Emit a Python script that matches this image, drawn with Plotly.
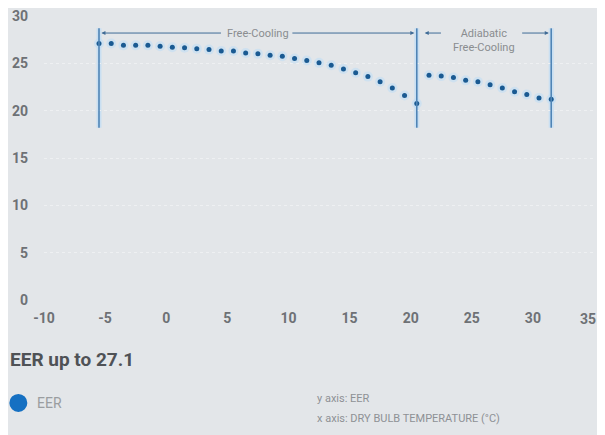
import plotly.graph_objects as go

# ---- data ----
fc_temp = [-5.5, -4.5, -3.5, -2.5, -1.5, -0.5, 0.5, 1.5, 2.5, 3.5, 4.5, 5.5, 6.5,
           7.5, 8.5, 9.5, 10.5, 11.5, 12.5, 13.5, 14.5, 15.5, 16.5, 17.5, 18.5, 19.5, 20.5]
fc_eer = [27.1, 27.1, 26.9, 26.9, 26.9, 26.8, 26.7, 26.65, 26.55, 26.45, 26.3, 26.3, 26.1,
          26.0, 25.85, 25.75, 25.5, 25.3, 25.05, 24.8, 24.4, 24.0, 23.6, 23.05, 22.4, 21.6, 20.75]
ad_temp = [21.5, 22.5, 23.5, 24.5, 25.5, 26.5, 27.5, 28.5, 29.5, 30.5, 31.5]
ad_eer = [23.75, 23.65, 23.5, 23.2, 23.05, 22.75, 22.4, 22.0, 21.7, 21.35, 21.2]

temp = fc_temp + ad_temp
eer = fc_eer + ad_eer

region_bounds = [-5.5, 20.5, 31.5]
region_names = ["Free-Cooling", "Adiabatic<br>Free-Cooling"]
marker_span = [18.2, 28.7]
arrow_level = 28.2
text_gaps = [(4.6, 10.2), (22.6, 29.0)]

x_ticks = [-10, -5, 0, 5, 10, 15, 20, 25, 30, 35]
x_tick_labels = ["-10", "-5", "0", "5", "10", "15", "20", "25", "30", "35"]
y_ticks = [0, 5, 10, 15, 20, 25, 30]

series_name = "EER"
series_color = "#1570c2"

BG = "#e3e6e9"
COND = "Roboto, sans-serif"
TICKFONT = dict(family=COND, size=14, color="#6e7175", weight="bold")

fig = go.Figure()

# glow
fig.add_trace(go.Scatter(x=temp, y=eer, mode="markers", showlegend=False, hoverinfo="skip",
                         marker=dict(size=10, color="rgba(190,220,245,0.55)", line=dict(width=0))))
fig.add_trace(go.Scatter(x=temp, y=eer, mode="markers", name=series_name, showlegend=False,
                         marker=dict(size=5, color="#1a5a92", line=dict(width=0))))

shapes = []
for xb in region_bounds:
    shapes.append(dict(type="line", xref="x", yref="y", x0=xb, x1=xb, y0=marker_span[0], y1=marker_span[1],
                       line=dict(color="rgba(190,220,245,0.7)", width=5), layer="below"))
    shapes.append(dict(type="line", xref="x", yref="y", x0=xb, x1=xb, y0=marker_span[0], y1=marker_span[1],
                       line=dict(color="#4f84b5", width=1.6)))

# legend marker (drawn manually so it can sit flush with the left edge)
shapes.append(dict(type="circle", xref="paper", yref="paper", x0=-0.0630, x1=-0.0303, y0=-0.394, y1=-0.3306,
                   fillcolor=series_color, line=dict(width=0)))

annotations = []
for i, name in enumerate(region_names):
    left, right = region_bounds[i], region_bounds[i + 1]
    g0, g1 = text_gaps[i]
    dx = 0.45 if i == 1 else 0.0
    annotations.append(dict(x=left + 0.2 + dx, y=arrow_level, ax=g0, ay=arrow_level, xref="x", yref="y",
                            axref="x", ayref="y", text="", showarrow=True, arrowhead=2,
                            arrowsize=0.8, arrowwidth=1, arrowcolor="#3f6b96"))
    annotations.append(dict(x=right - 0.2, y=arrow_level, ax=g1, ay=arrow_level, xref="x", yref="y",
                            axref="x", ayref="y", text="", showarrow=True, arrowhead=2,
                            arrowsize=0.8, arrowwidth=1, arrowcolor="#3f6b96"))
    annotations.append(dict(x=(left + right) / 2, y=arrow_level, xref="x", yref="y", text=name,
                            showarrow=False, yanchor="top" if i == 1 else "middle",
                            yshift=8 if i == 1 else 0,
                            font=dict(family=COND, size=11, color="#8a8d90")))

# last x tick label, nudged inward so it stays inside the page
annotations.append(dict(x=x_ticks[-1], y=0, xref="x", yref="paper", text=x_tick_labels[-1],
                        showarrow=False, xanchor="center", yanchor="top", xshift=-6, yshift=-9,
                        font=TICKFONT))

# title, legend text and axis notes
annotations.append(dict(x=-0.0649, y=-0.211, xref="paper", yref="paper", xanchor="left", yanchor="middle",
                        text="EER up to 27.1", showarrow=False,
                        font=dict(family=COND, size=19, color="#4f5256", weight="bold")))
annotations.append(dict(x=-0.016, y=-0.364, xref="paper", yref="paper", xanchor="left", yanchor="middle",
                        text=series_name, showarrow=False,
                        font=dict(family=COND, size=14, color="#9a9da0")))
annotations.append(dict(x=0.493, y=-0.348, xref="paper", yref="paper", xanchor="left", yanchor="middle",
                        text="y axis: EER", showarrow=False,
                        font=dict(family=COND, size=11, color="#8e9195")))
annotations.append(dict(x=0.493, y=-0.419, xref="paper", yref="paper", xanchor="left", yanchor="middle",
                        text="x axis: DRY BULB TEMPERATURE (°C)", showarrow=False,
                        font=dict(family=COND, size=11, color="#8e9195")))

fig.update_layout(
    width=597, height=427,
    margin=dict(l=35.7, r=10.9, t=7.7, b=135, autoexpand=False),
    paper_bgcolor=BG, plot_bgcolor=BG,
    shapes=shapes, annotations=annotations,
    showlegend=False,
    xaxis=dict(range=[-10, 35], tickvals=x_ticks[:-1], ticktext=x_tick_labels[:-1],
               showgrid=False, zeroline=False, showline=False,
               ticks="", ticklabelstandoff=8, automargin=False, ticklabeloverflow="allow",
               tickfont=TICKFONT),
    yaxis=dict(range=[0, 30], tickvals=y_ticks, showgrid=True, gridcolor="#eef0f2", griddash="dot",
               gridwidth=1, zeroline=False, showline=False, ticks="", ticklabelstandoff=15, automargin=False,
               ticklabeloverflow="allow", tickfont=TICKFONT),
)

fig.write_html("out.html")
